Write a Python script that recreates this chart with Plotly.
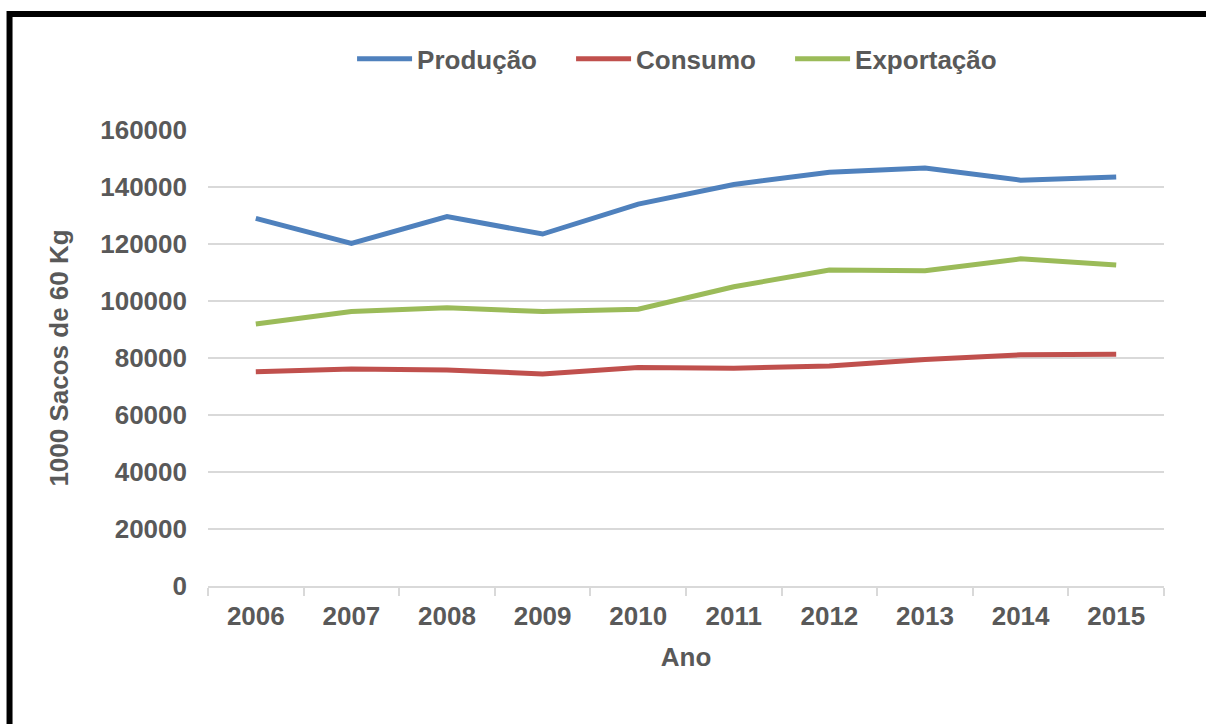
import plotly.graph_objects as go

# Coffee balance, thousands of 60 kg bags
anos = ["2006", "2007", "2008", "2009", "2010", "2011", "2012", "2013", "2014", "2015"]
producao = [129000, 120200, 129600, 123500, 134000, 140900, 145200, 146700, 142400, 143500]
consumo = [75200, 76100, 75800, 74400, 76700, 76400, 77200, 79500, 81100, 81300]
exportacao = [91900, 96300, 97600, 96300, 97100, 105000, 110900, 110600, 114800, 112600]

y_ticks = [0, 20000, 40000, 60000, 80000, 100000, 120000, 140000, 160000]

TEXT = "#595959"
GRID = "#D9D9D9"
FONT = "Liberation Sans, Arial, sans-serif"

fig = go.Figure()
for nome, valores, cor in [
    ("Produção", producao, "#4F81BD"),
    ("Consumo", consumo, "#C0504D"),
    ("Exportação", exportacao, "#9BBB59"),
]:
    fig.add_trace(go.Scatter(
        x=anos, y=valores, name=nome, mode="lines",
        line=dict(color=cor, width=5, shape="linear"),
    ))

fig.update_layout(
    width=1206, height=724,
    margin=dict(l=208, r=42, t=130, b=138),
    paper_bgcolor="white", plot_bgcolor="white",
    font=dict(family=FONT, size=26, color=TEXT),
    legend=dict(
        orientation="h", x=0.1507, xanchor="left", y=1.156, yanchor="middle",
        font=dict(family=FONT, size=26, color=TEXT, weight="bold"),
        itemwidth=55, entrywidth=149, entrywidthmode="pixels",
        tracegroupgap=0, bgcolor="rgba(0,0,0,0)",
    ),
    xaxis=dict(
        type="category", range=[-0.5, 9.5],
        tickson="boundaries", ticks="outside", ticklen=8,
        tickcolor=GRID, tickwidth=1.5,
        showline=True, linecolor=GRID, linewidth=1.5, showgrid=False,
        ticklabelstandoff=6,
        tickfont=dict(family=FONT, size=26, color=TEXT, weight="bold"),
        title=dict(text="Ano", standoff=18,
                   font=dict(family=FONT, size=26, color=TEXT, weight="bold")),
        automargin=False,
    ),
    yaxis=dict(
        range=[0, 160000], tickvals=y_ticks, ticktext=[str(v) for v in y_ticks],
        showgrid=True, gridcolor=GRID, gridwidth=1.5, zeroline=False,
        showline=False, ticks="", ticklabelstandoff=20,
        tickfont=dict(family=FONT, size=26, color=TEXT, weight="bold"),
        title=dict(text="1000 Sacos de 60 Kg", standoff=24,
                   font=dict(family=FONT, size=26, color=TEXT, weight="bold")),
        automargin=False,
    ),
    showlegend=True,
)

# Black outer frame around the chart
fig.add_shape(
    type="rect", xref="paper", yref="paper",
    x0=-0.2076, x1=1.0533, y0=-0.3268, y1=1.2544,
    line=dict(color="black", width=6), fillcolor="rgba(0,0,0,0)", layer="above",
)

fig.write_html("out.html")
